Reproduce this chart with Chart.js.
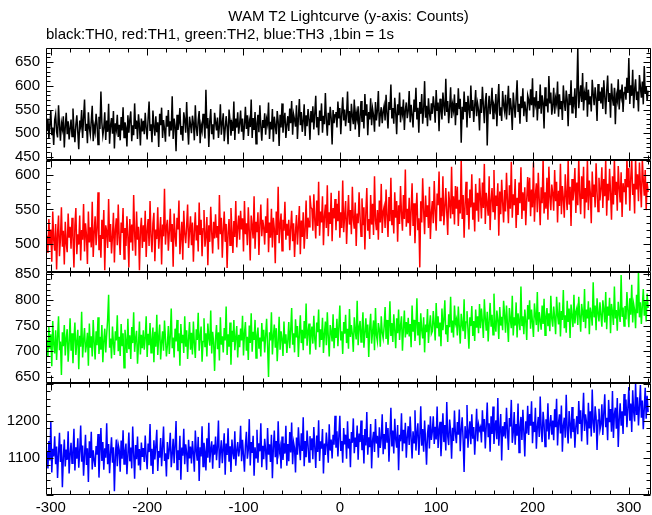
<!DOCTYPE html>
<html>
<head>
<meta charset="utf-8">
<script src="https://cdn.jsdelivr.net/npm/chart.js@4"></script>
<style>
  html, body { margin: 0; padding: 0; background: #fff; }
  #wrap { width: 652px; height: 515px; position: relative; }
</style>
</head>
<body>
<div id="wrap"><canvas id="lc"></canvas></div>
<script>
// WAM T2 lightcurve, 4 energy bands, counts per 1 s bin
const TIME_START = -304;
const BIN = 1;

// black: TH0
const TH0 = [
  505,531,488,519,547,496,512,475,528,540,503,491,559,517,484,522,509,536,470,514,543,498,525,487,511,
  529,493,552,507,481,518,538,502,466,527,514,549,490,533,571,505,520,479,544,511,497,526,558,483,515,
  502,541,519,476,535,509,588,522,495,511,544,486,527,503,562,478,516,532,499,547,468,521,508,539,492,
  518,485,534,506,555,491,523,512,472,538,501,529,546,483,517,496,563,509,527,488,540,515,474,531,504,
  526,498,543,511,487,532,567,505,519,481,548,514,495,536,502,523,471,541,517,554,490,528,509,482,537,
  514,549,493,525,506,578,488,531,516,462,539,507,522,553,497,515,484,544,529,501,566,511,476,535,518,
  500,537,521,485,559,512,494,528,547,479,517,505,541,523,489,592,510,532,471,526,551,498,519,487,543,
  524,506,533,490,515,561,497,521,542,483,509,536,514,477,550,528,495,519,505,567,486,531,512,544,499,
  520,548,503,531,486,517,556,509,538,494,526,513,571,490,532,507,545,478,521,539,502,559,515,484,528,
  511,542,497,530,519,565,488,524,508,551,482,535,516,498,547,525,473,539,512,563,501,527,543,490,518,
  536,505,552,521,568,497,540,529,514,559,488,533,572,517,545,503,526,561,494,538,515,551,530,486,547,
  523,557,508,541,579,512,534,496,548,526,563,501,537,519,585,528,495,543,517,556,532,476,549,521,539,
  545,512,567,531,553,498,541,576,527,550,515,539,588,522,547,505,562,536,519,571,508,544,530,557,492,
  535,568,524,549,510,583,537,561,496,545,529,574,517,552,538,503,566,527,548,589,514,539,555,521,546,
  558,527,581,542,510,566,549,603,531,553,520,575,544,498,561,538,586,523,556,541,571,507,549,565,532,
  547,589,523,560,538,512,571,545,596,529,554,501,566,541,583,520,549,610,533,558,515,574,542,527,563,
  541,578,556,522,591,547,565,504,573,550,529,586,559,537,615,545,568,521,553,597,532,561,548,582,517,
  564,538,595,551,573,480,556,529,588,545,566,512,579,553,532,601,547,570,524,558,591,536,563,549,506,
  572,543,598,559,521,567,585,474,553,579,540,562,596,531,558,549,583,515,568,604,537,555,526,589,560,
  546,581,529,563,600,538,574,552,507,586,559,533,571,612,545,562,520,578,553,595,536,567,549,524,580,
  571,548,593,559,616,534,576,562,589,527,568,552,603,541,580,565,510,597,557,573,544,621,563,586,539,
  558,596,541,574,562,609,535,582,551,568,528,601,566,547,590,571,515,583,559,612,543,577,564,595,532,
  586,680,553,579,601,566,627,548,584,570,608,535,592,561,578,546,613,583,559,597,574,526,604,568,588,
  563,597,551,612,578,540,589,622,566,585,533,605,574,558,596,519,581,569,614,550,592,577,603,545,586,
  598,571,617,585,659,562,601,579,634,553,592,614,570,588,546,623,597,575,609,561,642,583,599,568,590
];
// red: TH1
const TH1 = [
  512,487,536,498,521,474,547,506,490,529,463,515,541,482,508,553,496,519,470,532,501,488,544,509,525,
  493,538,511,466,527,552,485,514,499,541,476,520,506,558,489,530,513,471,547,502,524,495,561,481,516,
  540,498,522,575,491,513,480,535,507,549,462,527,518,494,565,503,529,486,511,545,473,520,537,498,557,
  509,484,531,516,552,478,523,497,540,511,466,536,502,528,490,571,515,483,547,506,525,462,519,538,494,
  527,503,548,481,519,536,497,562,512,488,530,545,475,521,507,553,493,516,539,470,528,511,580,499,524,
  535,490,517,551,503,529,467,544,512,496,538,521,563,485,509,532,477,548,515,501,526,557,494,519,540,
  498,531,474,518,546,505,527,489,560,513,535,482,522,549,496,511,539,469,527,503,554,517,486,532,508,
  543,509,526,492,571,514,538,480,521,547,503,529,465,516,536,498,552,519,487,533,510,562,495,524,541,
  506,548,521,537,489,562,514,530,498,553,519,476,541,525,508,569,493,532,517,546,484,528,557,511,535,
  524,499,540,516,566,488,531,509,551,495,538,522,472,547,513,583,501,527,544,490,535,519,561,506,529,
  512,535,491,523,548,504,530,481,517,542,499,526,555,485,534,510,546,493,521,563,507,538,525,570,553,
  551,519,572,535,508,563,526,590,512,547,531,569,498,540,557,523,585,511,546,529,574,504,552,537,565,
  520,558,533,577,509,546,523,592,517,541,562,500,538,571,528,549,514,583,535,522,560,497,544,530,575,
  539,511,566,527,553,492,545,581,519,536,507,571,528,558,513,598,534,520,549,506,563,531,587,516,547,
  554,523,579,540,510,568,533,596,527,549,515,575,538,562,503,556,529,584,544,519,571,536,608,525,551,
  530,567,512,548,588,526,559,501,543,574,520,537,466,562,531,595,548,514,570,539,556,523,583,507,545,
  562,530,591,548,519,573,556,605,534,567,540,598,527,552,581,546,513,576,559,537,612,543,569,528,584,
  551,583,526,564,544,623,536,571,509,557,590,542,566,521,579,553,601,535,560,518,587,548,574,532,595,
  566,537,589,552,616,529,574,558,541,598,520,563,581,547,607,535,570,555,588,512,576,543,593,560,531,
  578,547,603,563,530,585,551,619,538,572,556,594,523,567,542,589,559,611,536,575,548,582,527,564,597,
  561,596,540,579,553,618,532,571,588,546,603,564,527,582,559,623,544,575,551,596,535,612,568,549,586,
  573,548,607,562,590,531,577,555,616,543,584,566,538,601,570,549,623,557,583,526,594,563,578,610,545,
  589,556,623,571,543,598,565,612,537,581,560,623,549,592,574,530,605,568,586,553,617,575,547,596,563,
  580,611,552,594,569,623,541,587,563,609,574,535,598,557,623,571,590,548,613,582,560,604,539,588,576,
  594,557,623,582,610,548,596,623,571,587,544,623,579,601,562,618,585,553,623,592,570,607,549,589,575
];
// green: TH2
const TH2 = [
  722,689,748,705,733,671,759,714,696,741,683,727,768,702,719,654,737,710,751,692,726,743,680,716,764,
  701,735,677,724,756,693,718,742,665,730,709,777,688,721,745,698,713,736,672,754,707,729,690,761,717,
  684,739,712,766,695,728,703,751,679,720,744,698,733,762,810,707,725,686,748,716,693,739,721,770,700,
  728,691,753,710,735,668,742,719,697,763,704,731,685,747,716,776,699,725,740,676,713,758,694,732,706,
  741,703,726,768,689,734,712,755,697,721,746,679,738,709,771,693,728,752,684,717,739,701,760,725,690,
  712,749,695,730,783,706,727,688,744,719,761,700,735,672,753,716,732,697,768,709,741,685,724,757,703,
  736,694,758,715,687,743,722,775,701,729,748,680,719,764,708,735,690,754,726,711,779,696,738,717,662,
  725,751,704,737,682,766,713,729,698,745,721,787,693,733,709,756,674,740,718,761,702,727,749,688,732,
  708,744,721,769,692,735,757,701,728,683,750,716,774,699,738,722,761,687,731,746,705,727,690,755,719,
  742,698,730,763,711,650,737,721,776,694,729,752,707,745,681,718,767,703,739,724,691,758,715,733,697,
  720,757,706,741,784,713,735,698,762,727,749,689,733,770,716,742,702,759,725,793,711,738,754,694,731,
  748,715,769,724,703,756,737,781,708,743,722,765,697,734,758,712,776,729,690,751,738,719,772,706,745,
  726,763,710,748,789,721,739,695,757,734,771,716,744,705,782,728,751,733,699,766,740,723,798,712,747,
  759,718,742,776,707,735,764,726,752,689,745,773,715,738,760,702,784,731,719,755,742,709,768,736,725,
  748,786,724,761,713,743,797,730,755,718,772,741,706,764,735,781,722,750,768,701,744,779,727,757,733,
  765,729,753,708,789,738,761,720,746,803,731,757,712,774,741,725,766,698,752,737,782,716,749,770,734,
  739,778,752,721,794,745,768,729,756,710,783,741,762,799,733,751,718,772,747,806,736,760,727,789,754,
  762,731,787,748,715,773,752,739,801,724,757,778,743,705,766,749,788,730,759,720,781,746,768,735,792,
  745,783,758,726,801,764,740,777,719,759,794,748,771,732,812,755,738,779,761,724,786,750,767,741,798,
  771,736,789,753,718,784,762,745,808,731,766,750,795,727,774,757,741,826,749,768,733,781,759,722,790,
  762,799,744,781,756,728,793,770,751,815,738,776,760,742,789,753,802,731,767,784,749,774,739,808,763,
  748,787,765,733,806,771,752,795,729,778,761,819,745,770,736,798,757,783,726,791,768,747,810,754,776,
  784,751,806,769,738,792,775,757,821,745,781,764,797,733,785,772,750,834,766,789,741,803,774,758,795,
  770,748,799,781,756,815,743,787,769,804,735,792,776,751,826,764,780,740,796,772,757,848,767,785,749,
  788,762,815,779,747,803,771,829,756,792,780,745,810,774,855,766,795,753,788,821,769,797,758,812,784
];
// blue: TH3
const TH3 = [
  1118,1072,1146,1093,1197,1061,1125,1104,1159,1083,1131,1046,1112,1168,1089,1137,1021,1101,1150,1077,1123,1095,1172,1058,1109,
  1141,1086,1115,1179,1066,1129,1098,1153,1074,1118,1188,1090,1134,1052,1107,1163,1081,1126,1035,1145,1100,1171,1069,1121,1094,
  1076,1132,1109,1165,1047,1119,1181,1092,1143,1068,1126,1101,1194,1083,1138,1059,1114,1156,1087,1129,1010,1105,1150,1078,1136,
  1122,1063,1147,1098,1175,1084,1117,1139,1056,1108,1169,1091,1128,1072,1185,1113,1044,1135,1097,1158,1080,1124,1067,1142,1103,
  1127,1089,1161,1104,1070,1139,1116,1192,1081,1125,1057,1148,1096,1133,1176,1065,1119,1101,1154,1078,1130,1185,1092,1113,1050,
  1143,1097,1124,1168,1075,1110,1152,1086,1134,1200,1069,1121,1095,1160,1041,1128,1106,1179,1083,1137,1115,1062,1149,1099,1131,
  1085,1146,1112,1063,1174,1120,1093,1157,1038,1129,1104,1186,1077,1141,1118,1066,1153,1101,1195,1088,1124,1145,1071,1136,1109,
  1158,1094,1130,1201,1073,1117,1148,1086,1125,1167,1055,1139,1108,1180,1090,1132,1062,1150,1115,1097,1172,1079,1121,1143,1104,
  1126,1187,1091,1149,1108,1063,1135,1171,1098,1122,1205,1080,1143,1114,1160,1052,1129,1101,1176,1087,1140,1118,1194,1075,1133,
  1097,1152,1120,1068,1181,1109,1137,1089,1163,1045,1128,1174,1102,1146,1083,1199,1116,1131,1072,1158,1095,1140,1112,1187,1079,
  1138,1091,1170,1115,1196,1083,1142,1127,1061,1155,1109,1183,1131,1094,1167,1119,1210,1078,1146,1102,1174,1135,1089,1159,1121,
  1153,1097,1184,1130,1073,1161,1116,1202,1092,1145,1125,1178,1058,1139,1108,1169,1133,1087,1191,1120,1150,1099,1163,1136,1214,
  1128,1172,1104,1158,1214,1119,1146,1087,1181,1137,1163,1098,1199,1126,1152,1075,1170,1141,1207,1113,1155,1130,1188,1095,1166,
  1143,1201,1121,1162,1085,1178,1134,1224,1109,1156,1129,1192,1072,1148,1171,1116,1205,1139,1160,1101,1183,1127,1153,1218,1110,
  1165,1124,1197,1143,1181,1090,1159,1236,1131,1174,1112,1206,1150,1128,1189,1067,1163,1145,1221,1118,1176,1139,1195,1101,1157,
  1186,1135,1212,1153,1099,1172,1141,1229,1120,1168,1194,1108,1157,1240,1133,1178,1117,1201,1146,1082,1165,1190,1126,1213,1149,
  1171,1213,1138,1184,1150,1239,1127,1176,1198,1105,1162,1221,1143,1189,1120,1251,1158,1135,1204,1173,1098,1182,1146,1228,1165,
  1140,1197,1163,1231,1118,1177,1210,1149,1062,1186,1155,1243,1128,1171,1199,1137,1218,1152,1184,1109,1166,1233,1145,1190,1175,
  1183,1142,1229,1171,1205,1126,1188,1250,1156,1194,1117,1213,1165,1239,1138,1180,1202,1151,1262,1133,1177,1219,1093,1186,1158,
  1197,1153,1236,1174,1122,1208,1185,1257,1141,1169,1224,1136,1192,1160,1247,1115,1183,1211,1149,1230,1172,1104,1199,1166,1241,
  1162,1219,1187,1253,1140,1198,1170,1236,1125,1184,1211,1157,1266,1178,1143,1225,1192,1131,1205,1172,1248,1150,1189,1216,1163,
  1201,1148,1232,1183,1260,1134,1195,1218,1166,1242,1117,1188,1209,1155,1271,1177,1139,1227,1191,1153,1238,1170,1206,1128,1185,
  1213,1164,1254,1192,1229,1145,1207,1276,1173,1218,1197,1136,1249,1180,1226,1158,1285,1195,1168,1240,1211,1122,1202,1233,1176,
  1190,1245,1162,1221,1272,1183,1209,1148,1257,1197,1232,1171,1281,1154,1218,1236,1179,1262,1130,1204,1248,1187,1226,1165,1273,
  1214,1258,1183,1236,1292,1201,1247,1170,1283,1225,1199,1302,1216,1264,1188,1241,1297,1209,1255,1178,1233,1290,1206,1268,1224
];

// tick labels
const X_TICKS   = [-300, -200, -100, 0, 100, 200, 300];
const TH0_TICKS = [450, 500, 550, 600, 650];
const TH1_TICKS = [500, 550, 600];
const TH2_TICKS = [650, 700, 750, 800, 850];
const TH3_TICKS = [1100, 1200];

const FONT = "'Liberation Sans', Arial, Helvetica, sans-serif";

// panels top to bottom: scale id, data, colour, y range, labels, minor/major step
const panels = [
  { id: 'yK', data: TH0, color: '#000000', min: 444,  max: 680,  ticks: TH0_TICKS, minor: 10, major: 50 },
  { id: 'yR', data: TH1, color: '#ff0000', min: 460,  max: 622,  ticks: TH1_TICKS, minor: 10, major: 50 },
  { id: 'yG', data: TH2, color: '#00ff00', min: 638,  max: 855,  ticks: TH2_TICKS, minor: 10, major: 50 },
  { id: 'yB', data: TH3, color: '#0000ff', min: 1000, max: 1302, ticks: TH3_TICKS, minor: 20, major: 100 },
];

function toPoints(arr) {
  return arr.map((v, i) => ({ x: TIME_START + i * BIN, y: v }));
}

// frame + inward ticks like the qdp/pgplot look
const frameTicks = {
  id: 'frameTicks',
  afterDatasetsDraw(chart) {
    const ctx = chart.ctx;
    const xs = chart.scales.x;
    const L = Math.round(chart.chartArea.left) + 0.5;
    const R = Math.round(chart.chartArea.right) - 0.5;
    ctx.save();
    ctx.strokeStyle = '#000';
    ctx.lineWidth = 1;
    panels.forEach(p => {
      const ys = chart.scales[p.id];
      const T = Math.round(ys.top) + 0.5;
      const B = Math.round(ys.bottom) - 0.5;
      ctx.beginPath();
      ctx.rect(L, T, R - L, B - T);
      // y ticks
      for (let v = Math.ceil(p.min / p.minor) * p.minor; v <= p.max; v += p.minor) {
        const y = Math.round(ys.getPixelForValue(v)) + 0.5;
        const len = v % p.major === 0 ? 7 : 4;
        ctx.moveTo(L, y); ctx.lineTo(L + len, y);
        ctx.moveTo(R, y); ctx.lineTo(R - len, y);
      }
      // x ticks
      for (let v = -300; v <= xs.max; v += 20) {
        const x = Math.round(xs.getPixelForValue(v)) + 0.5;
        const len = v % 100 === 0 ? 7 : 4;
        ctx.moveTo(x, T); ctx.lineTo(x, T + len);
        ctx.moveTo(x, B); ctx.lineTo(x, B - len);
      }
      ctx.stroke();
    });
    ctx.restore();
  }
};

const tickFont = { family: FONT, size: 15 };

const scales = {
  x: {
    type: 'linear',
    min: -305,
    max: 323,
    afterBuildTicks: s => { s.ticks = X_TICKS.map(v => ({ value: v })); },
    afterFit: s => { s.height = 20; },
    grid: { display: false, drawTicks: false },
    border: { display: false },
    ticks: { color: '#000', font: tickFont, padding: 4, maxRotation: 0, autoSkip: false,
             callback: v => String(v) },
  }
};
// later-defined left stacked axes are placed on top, so add bottom panel first
panels.slice().reverse().forEach(p => {
  scales[p.id] = {
    type: 'linear',
    position: 'left',
    stack: 'lc',
    stackWeight: 1,
    min: p.min,
    max: p.max,
    afterBuildTicks: s => { s.ticks = p.ticks.map(v => ({ value: v })); },
    afterFit: s => { s.width = 46; },
    grid: { display: false, drawTicks: false },
    border: { display: false },
    ticks: { color: '#000', font: tickFont, padding: 6, autoSkip: false,
             callback: v => String(v) },
  };
});

new Chart(document.getElementById('lc'), {
  type: 'line',
  data: {
    datasets: panels.map(p => ({
      label: p.id,
      data: toPoints(p.data),
      yAxisID: p.id,
      borderColor: p.color,
      borderWidth: 1.5,
      pointRadius: 0,
      tension: 0,
      fill: false,
    }))
  },
  options: {
    responsive: true,
    maintainAspectRatio: false,
    animation: false,
    layout: { padding: { left: 0, right: 1, top: 0, bottom: 0 } },
    plugins: {
      legend: { display: false },
      tooltip: { enabled: false },
      title: {
        display: true,
        text: 'WAM T2 Lightcurve (y-axis: Counts)',
        color: '#000',
        fullSize: false,
        font: { family: FONT, size: 15, weight: 'normal' },
        padding: { top: 8, bottom: 0 },
      },
      subtitle: {
        display: true,
        text: 'black:TH0, red:TH1, green:TH2, blue:TH3 ,1bin = 1s',
        color: '#000',
        align: 'start',
        fullSize: false,
        font: { family: FONT, size: 15 },
        padding: { top: 0, bottom: 4 },
      },
    },
    scales,
  },
  plugins: [frameTicks],
});
</script>
</body>
</html>
